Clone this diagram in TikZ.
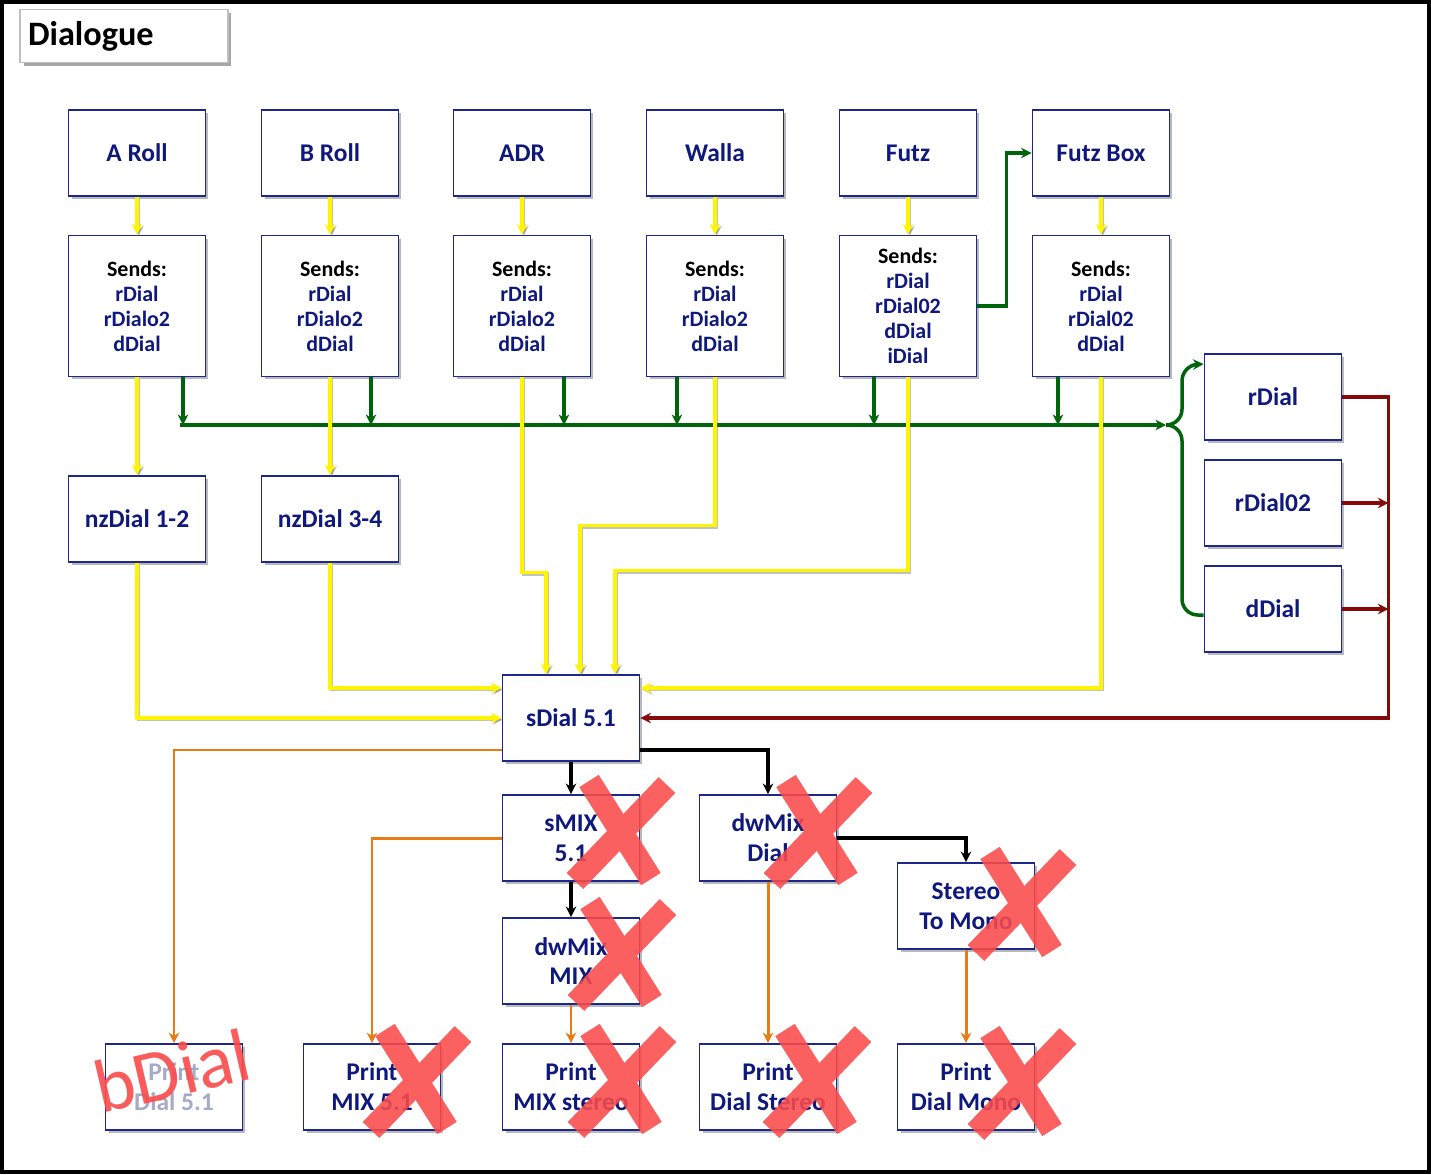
\documentclass[tikz,border=0pt]{standalone}
\usepackage{fontspec}
\setmainfont{Carlito}
\usetikzlibrary{arrows.meta,shadows}
\definecolor{navy}{RGB}{30,40,140}
\definecolor{navytext}{RGB}{15,25,125}
\definecolor{busgreen}{RGB}{0,100,10}
\definecolor{darkred}{RGB}{135,10,10}
\definecolor{wireorange}{RGB}{230,125,20}
\definecolor{wireyellow}{RGB}{255,245,0}
\definecolor{crossred}{RGB}{250,75,75}
\definecolor{faded}{RGB}{165,170,200}
\begin{document}
\begin{tikzpicture}[x=0.02cm, y=-0.02cm,
    box/.style={draw=navy, line width=1.1pt, fill=white, minimum width=2.74cm,
      minimum height=1.72cm, inner sep=2pt, align=center, text=navytext,
      font=\fontsize{14.5}{17}\selectfont\bfseries,
      drop shadow={shadow xshift=0.06cm, shadow yshift=-0.06cm, opacity=0.55}},
    sends/.style={box, minimum height=2.82cm, font=\fontsize{12.5}{14.2}\selectfont\bfseries},
    title/.style={draw=black!25, line width=0.6pt, fill=white, minimum height=1.06cm,
      text width=3.84cm, inner xsep=0.16cm, align=left, font=\fontsize{19.5}{22}\selectfont\bfseries,
      drop shadow={shadow xshift=0.07cm, shadow yshift=-0.07cm, opacity=0.7}},
    wire/.style={line width=2pt},
    yl/.style={wire, draw=wireyellow, preaction={draw=black!60, line width=2pt, opacity=0.4,
      transform canvas={xshift=0.9pt, yshift=-0.9pt}}},
    gn/.style={wire, draw=busgreen},
    rd/.style={wire, draw=darkred},
    bk/.style={wire, draw=black},
    og/.style={line width=1.7pt, draw=wireorange},
    xmark/.pic={
      \begin{scope}[transparency group, opacity=0.88]
        \draw[crossred, line width=0.46cm] (-32,-50) -- (30,48);
        \draw[crossred, line width=0.46cm] (46,-46) -- (-46,50);
      \end{scope}},
    >={Stealth[length=6pt, width=6pt]}
  ]
  \useasboundingbox (0,0) rectangle (1431,1174);
  \draw[line width=2.2pt] (2,2) rectangle (1429,1172);
  \node[title] (ttl) at (124,36) {Dialogue};

  \node[box] (aroll) at (137,153) {A Roll};
  \node[box] (broll) at (330,153) {B Roll};
  \node[box] (adr) at (522,153) {ADR};
  \node[box] (walla) at (715,153) {Walla};
  \node[box] (futz) at (908,153) {Futz};
  \node[box] (futzbox) at (1101,153) {Futz Box};

  \node[sends] (saroll) at (137,306) {{\color{black}Sends:}\\rDial\\rDialo2\\dDial};
  \node[sends] (sbroll) at (330,306) {{\color{black}Sends:}\\rDial\\rDialo2\\dDial};
  \node[sends] (sadr) at (522,306) {{\color{black}Sends:}\\rDial\\rDialo2\\dDial};
  \node[sends] (swalla) at (715,306) {{\color{black}Sends:}\\rDial\\rDialo2\\dDial};
  \node[sends] (sfutz) at (908,306) {{\color{black}Sends:}\\rDial\\rDial02\\dDial\\iDial};
  \node[sends] (sfutzbox) at (1101,306) {{\color{black}Sends:}\\rDial\\rDial02\\dDial};

  \node[box] (nz12) at (137,519) {nzDial 1-2};
  \node[box] (nz34) at (330,519) {nzDial 3-4};
  \node[box] (rdial) at (1273,397) {rDial};
  \node[box] (rdial02) at (1273,503) {rDial02};
  \node[box] (ddial) at (1273,609) {dDial};

  \node[box] (sdial) at (571,718) {sDial 5.1};
  \node[box] (smix) at (571,838) {sMIX\\5.1};
  \node[box] (dwdial) at (768,838) {dwMix\\Dial};
  \node[box] (stm) at (966,906) {Stereo\\To Mono};
  \node[box] (dwmix) at (571,961) {dwMix\\MIX};
  \node[box, text=faded] (pd51) at (174,1087) {Print\\Dial 5.1};
  \node[box] (pm51) at (372,1087) {Print\\MIX 5.1};
  \node[box] (pms) at (571,1087) {Print\\MIX stereo};
  \node[box] (pds) at (768,1087) {Print\\Dial Stereo};
  \node[box] (pdm) at (966,1087) {Print\\Dial Mono};

  \coordinate (busl) at (180,425);
  \coordinate (brc) at (1166,425);
  \draw[gn,->] (busl) -- (brc);
  \foreach \n/\dx in {aroll/46, broll/41, adr/42, walla/-38, futz/-34, futzbox/-43}
    \draw[gn,->] ([xshift=\dx*0.02cm]s\n.south) -- ([xshift=\dx*0.02cm]s\n.south |- busl);
  \draw[gn,->,rounded corners=9pt] (brc) -| (1182,365) -- ([yshift=-0.22cm]rdial.north west);
  \draw[gn,rounded corners=9pt] (brc) -| (1182,615) -- ([yshift=-0.12cm]ddial.west);
  \draw[gn,->] (sfutz.east) -- ++(29,0) |- (futzbox.west);

  \foreach \n in {aroll, broll, adr, walla, futz, futzbox}
    \draw[yl,->] (\n) -- (s\n);
  \draw[yl,->] (saroll) -- (nz12);
  \draw[yl,->] (sbroll) -- (nz34);
  \draw[yl,->] (nz12) |- (sdial.west);
  \draw[yl,->] (nz34) |- ([yshift=0.6cm]sdial.west);
  \draw[yl,->] (sadr.south) -- ++(0,195) -| ([xshift=-0.5cm]sdial.north);
  \draw[yl,->] (swalla.south) -- ++(0,148) -| ([xshift=0.18cm]sdial.north);
  \draw[yl,->] (sfutz.south) -- ++(0,193) -| ([xshift=0.88cm]sdial.north);
  \draw[yl,->] (sfutzbox) |- ([yshift=0.6cm]sdial.east);

  \draw[rd,->] (rdial.east) -- ++(46,0) |- (sdial.east);
  \draw[rd,->] (rdial02.east) -- ++(46,0);
  \draw[rd,->] (ddial.east) -- ++(46,0);

  \draw[bk,->] (sdial) -- (smix);
  \draw[bk,->] ([yshift=-0.64cm]sdial.east) -| (dwdial);
  \draw[bk,->] (smix) -- (dwmix);
  \draw[bk,->] (dwdial) -| (stm);

  \draw[og,->] ([yshift=-0.64cm]sdial.west) -| (pd51);
  \draw[og,->] (smix) -| (pm51);
  \draw[og,->] (dwmix) -- (pms);
  \draw[og,->] (dwdial) -- (pds);
  \draw[og,->] (stm) -- (pdm);

  \pic at (621,831) {xmark};
  \pic at (818,831) {xmark};
  \pic at (1022,903) {xmark};
  \pic at (622,953) {xmark};
  \pic at (417,1080) {xmark};
  \pic at (622,1080) {xmark};
  \pic at (817,1080) {xmark};
  \pic at (1022,1082) {xmark};
  \node[text=crossred, opacity=0.9, rotate=13, font=\fontsize{43}{43}\selectfont] (bdial) at (172,1071) {bDial};
\end{tikzpicture}
\end{document}
